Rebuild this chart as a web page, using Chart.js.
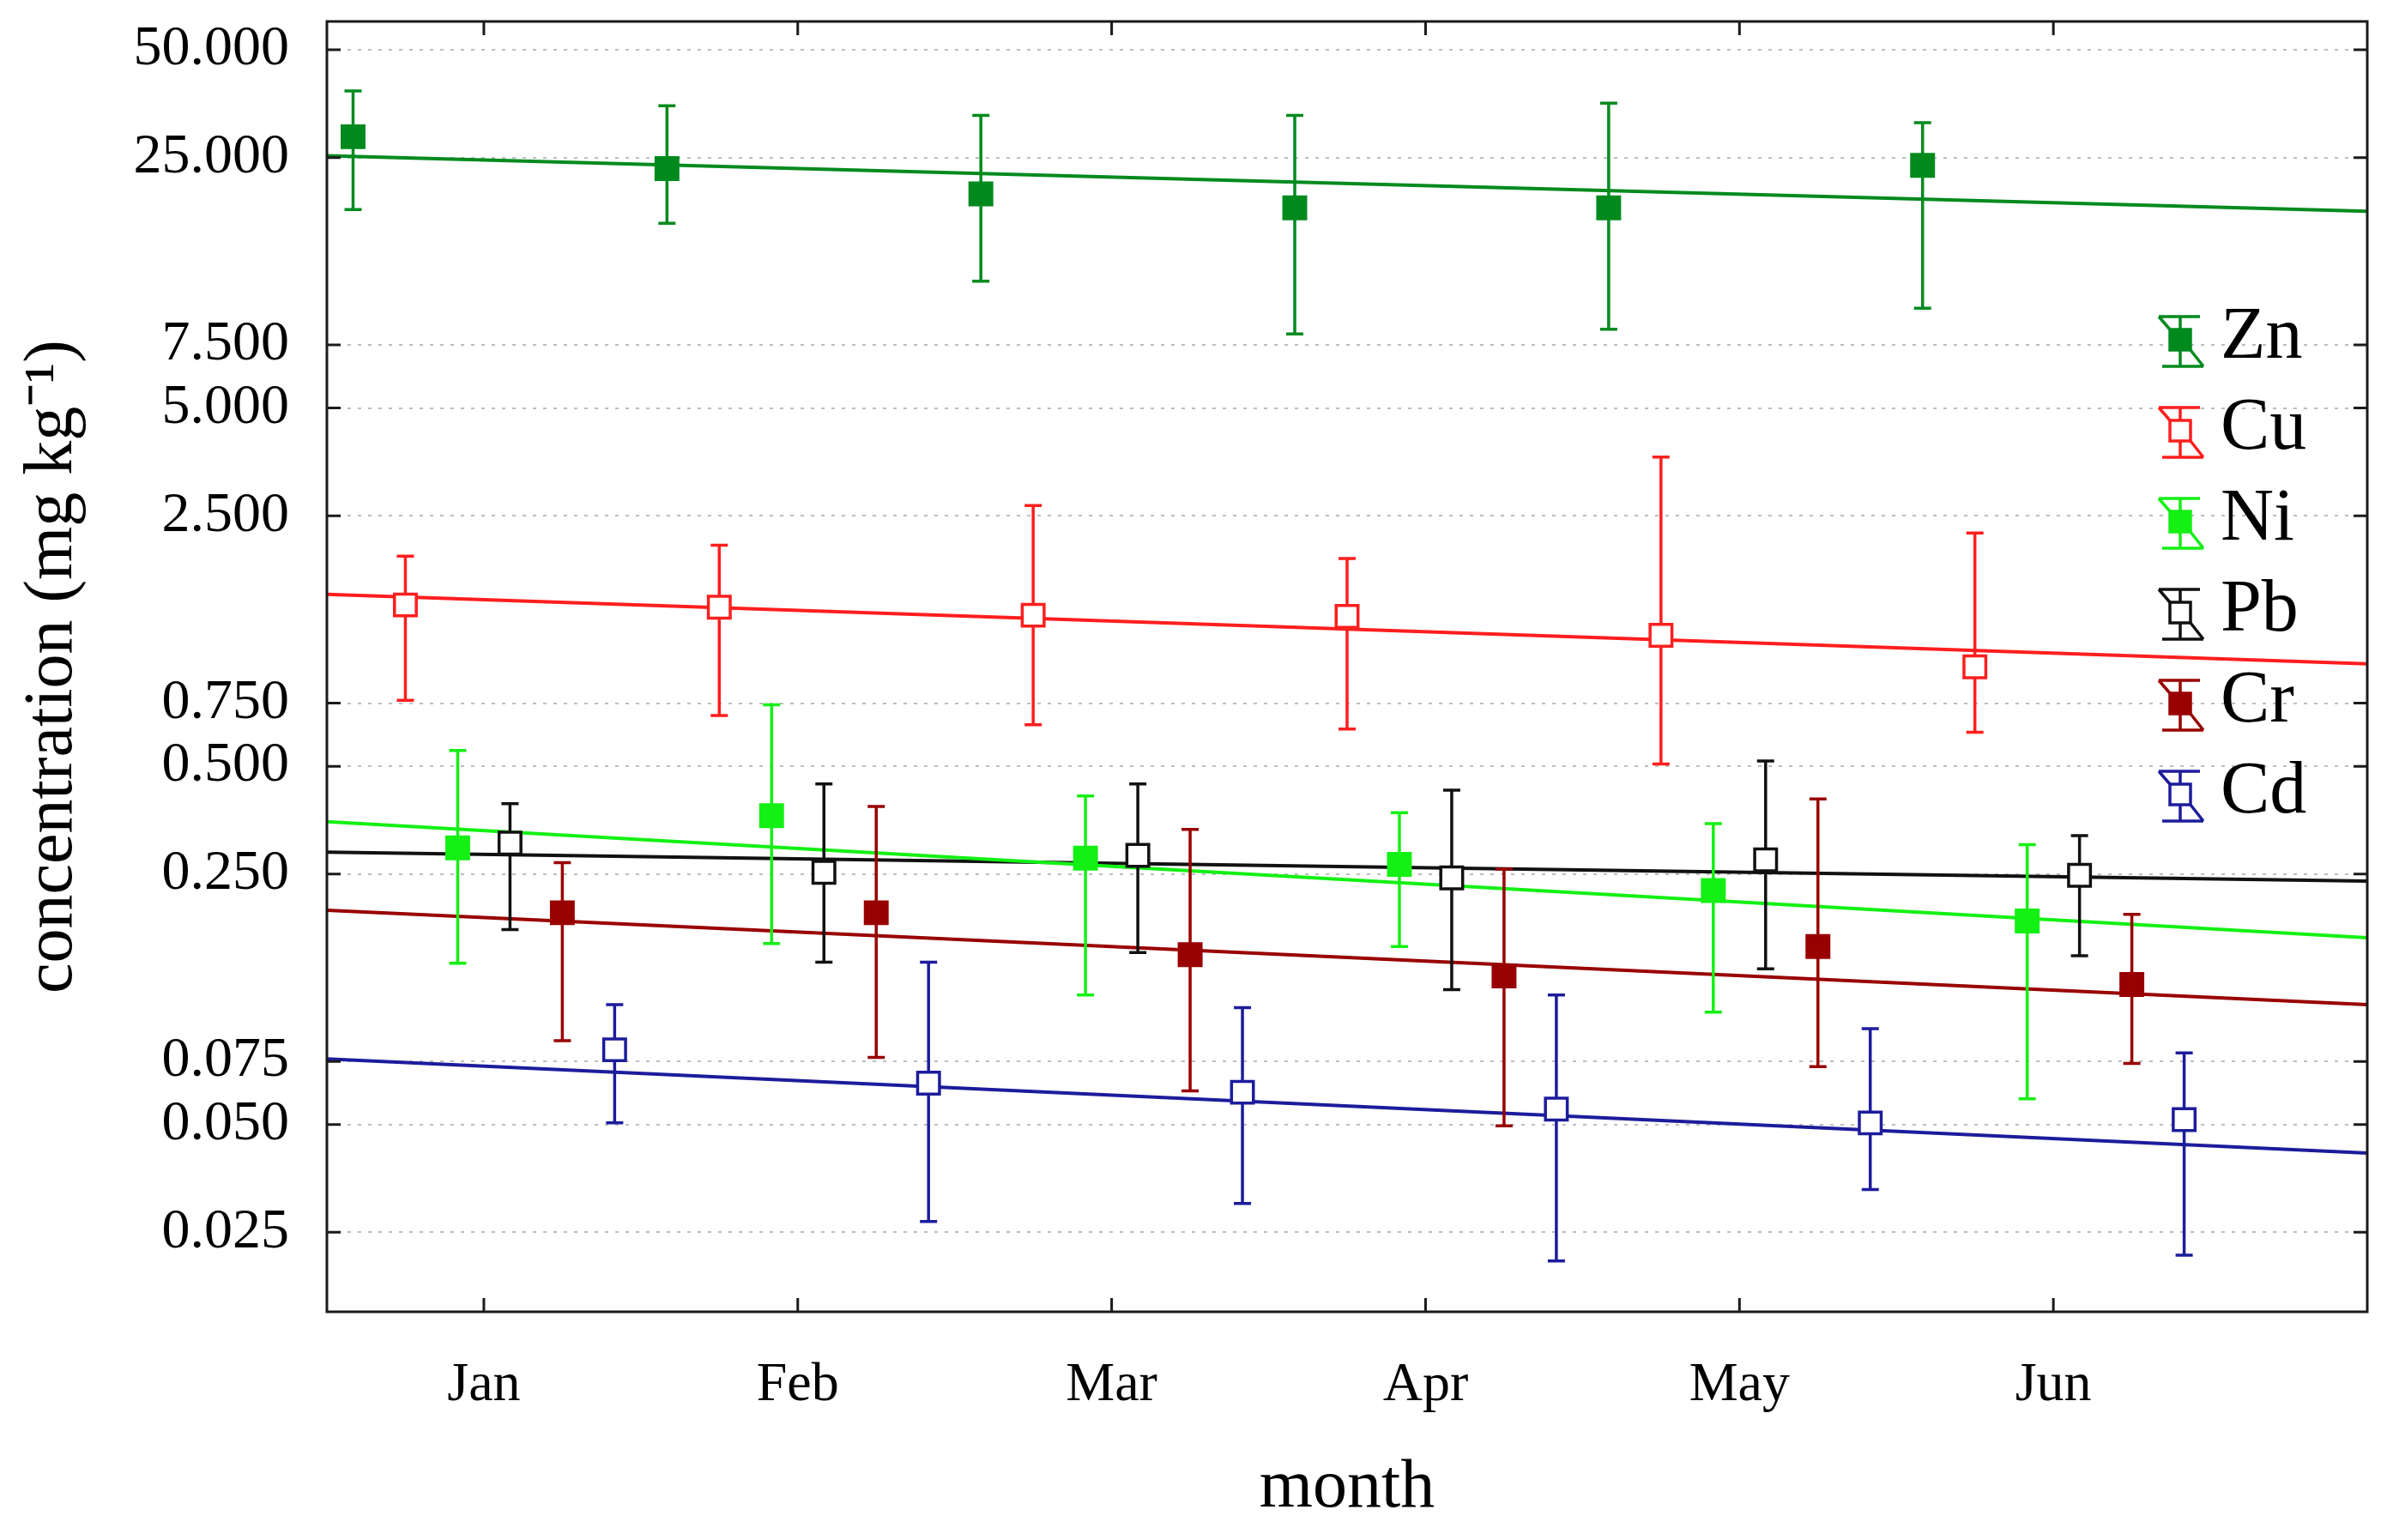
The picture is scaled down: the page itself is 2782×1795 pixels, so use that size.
<!DOCTYPE html>
<html lang="en">
<head>
<meta charset="UTF-8">
<title>Metal concentration by month</title>
<script src="https://cdn.jsdelivr.net/npm/chart.js"></script>
<style>
  body { margin: 0; background: #fff; }
  #wrap { width: 2782px; height: 1795px; position: relative; }
</style>
</head>
<body>
<div id="wrap"><canvas id="metals-chart"></canvas></div>
<script>
// categories and tick labels
const months = ['Jan', 'Feb', 'Mar', 'Apr', 'May', 'Jun'];
const yTicks = [50, 25, 7.5, 5, 2.5, 0.75, 0.5, 0.25, 0.075, 0.05, 0.025];
const metals = ['Zn', 'Cu', 'Ni', 'Pb', 'Cr', 'Cd'];

// means, error limits (mg/kg) and trend line end values
const znMean = [28.6, 23.3, 19.8, 18.1, 18.1, 23.8];
const znLow  = [17.9, 16.4, 11.3, 8.05, 8.3, 9.5];
const znHigh = [38.4, 34.9, 32.8, 32.8, 35.5, 31.3];
const znTrend = [25.3, 17.7];

const cuMean = [1.41, 1.39, 1.32, 1.31, 1.16, 0.947];
const cuLow  = [0.764, 0.693, 0.653, 0.635, 0.507, 0.622];
const cuHigh = [1.93, 2.07, 2.67, 1.90, 3.65, 2.24];
const cuTrend = [1.51, 0.966];

const niMean = [0.296, 0.364, 0.277, 0.266, 0.225, 0.185];
const niLow  = [0.141, 0.160, 0.115, 0.157, 0.103, 0.059];
const niHigh = [0.553, 0.742, 0.413, 0.371, 0.346, 0.302];
const niTrend = [0.350, 0.166];

const pbMean = [0.305, 0.253, 0.282, 0.244, 0.274, 0.248];
const pbLow  = [0.175, 0.142, 0.151, 0.119, 0.136, 0.148];
const pbHigh = [0.393, 0.446, 0.446, 0.429, 0.517, 0.320];
const pbTrend = [0.288, 0.239];

const crMean = [0.195, 0.195, 0.149, 0.130, 0.157, 0.123];
const crLow  = [0.0857, 0.0769, 0.0621, 0.0496, 0.0725, 0.074];
const crHigh = [0.269, 0.386, 0.333, 0.258, 0.405, 0.193];
const crTrend = [0.198, 0.108];

const cdMean = [0.0808, 0.0652, 0.0615, 0.0552, 0.0505, 0.0516];
const cdLow  = [0.0505, 0.0268, 0.0301, 0.0208, 0.0329, 0.0216];
const cdHigh = [0.108, 0.142, 0.106, 0.115, 0.0926, 0.0792];
const cdTrend = [0.0762, 0.0416];

const X_MIN = 0.5, X_MAX = 7;
const FONT = "'Liberation Serif', 'Times New Roman', serif";

const series = [
  { name: 'Zn', color: '#008a1e', filled: true,  mean: znMean, low: znLow, high: znHigh, trend: znTrend },
  { name: 'Cu', color: '#ff1e1e', filled: false, mean: cuMean, low: cuLow, high: cuHigh, trend: cuTrend },
  { name: 'Ni', color: '#14f014', filled: true,  mean: niMean, low: niLow, high: niHigh, trend: niTrend },
  { name: 'Pb', color: '#111111', filled: false, mean: pbMean, low: pbLow, high: pbHigh, trend: pbTrend },
  { name: 'Cr', color: '#990000', filled: true,  mean: crMean, low: crLow, high: crHigh, trend: crTrend },
  { name: 'Cd', color: '#1c1c9c', filled: false, mean: cdMean, low: cdLow, high: cdHigh, trend: cdTrend }
];

const pointSets = series.map((s, k) => ({
  type: 'scatter',
  label: s.name,
  data: s.mean.map((v, i) => ({ x: i + 1 + (k - 2.5) / 6, y: v })),
  errLow: s.low,
  errHigh: s.high,
  pointStyle: 'rect',
  pointRadius: 18,
  borderWidth: 3.5,
  borderColor: s.color,
  backgroundColor: s.filled ? s.color : '#ffffff'
}));

const trendSets = series.map(s => ({
  type: 'line',
  label: s.name + ' trend',
  data: [{ x: X_MIN, y: s.trend[0] }, { x: X_MAX, y: s.trend[1] }],
  borderColor: s.color,
  borderWidth: 4,
  pointRadius: 0,
  fill: false
}));

// vertical error bars with caps, drawn just before each point dataset
const errorBars = {
  id: 'errorBars',
  beforeDatasetDraw(chart, args) {
    const ds = chart.data.datasets[args.index];
    if (!ds.errLow) return;
    const xs = chart.scales.x, ys = chart.scales.y, ctx = chart.ctx;
    ctx.save();
    ctx.strokeStyle = ds.borderColor;
    ctx.lineWidth = 3.5;
    ds.data.forEach((p, i) => {
      const x = xs.getPixelForValue(p.x);
      const yl = ys.getPixelForValue(ds.errLow[i]);
      const yh = ys.getPixelForValue(ds.errHigh[i]);
      ctx.beginPath();
      ctx.moveTo(x, yh); ctx.lineTo(x, yl);
      ctx.moveTo(x - 10, yh); ctx.lineTo(x + 10, yh);
      ctx.moveTo(x - 10, yl); ctx.lineTo(x + 10, yl);
      ctx.stroke();
    });
    ctx.restore();
  }
};

// box frame with inward ticks on all four sides
const frame = {
  id: 'frame',
  afterDatasetsDraw(chart) {
    const { ctx, chartArea: a } = chart;
    const xs = chart.scales.x, ys = chart.scales.y;
    const len = 16;
    ctx.save();
    ctx.strokeStyle = '#1a1a1a';
    ctx.lineWidth = 3;
    ctx.strokeRect(a.left, a.top, a.right - a.left, a.bottom - a.top);
    ctx.beginPath();
    yTicks.forEach(v => {
      const y = ys.getPixelForValue(v);
      ctx.moveTo(a.left, y); ctx.lineTo(a.left + len, y);
      ctx.moveTo(a.right, y); ctx.lineTo(a.right - len, y);
    });
    months.forEach((m, i) => {
      const x = xs.getPixelForValue(i + 1);
      ctx.moveTo(x, a.bottom); ctx.lineTo(x, a.bottom - len);
      ctx.moveTo(x, a.top); ctx.lineTo(x, a.top + len);
    });
    ctx.stroke();
    ctx.restore();
  }
};

// legend inside the plot, right side
const insideLegend = {
  id: 'insideLegend',
  afterDraw(chart) {
    const ctx = chart.ctx;
    const gx = 2541, tx = 2588, y0 = 396, step = 106;
    ctx.save();
    series.forEach((s, i) => {
      const cy = y0 + i * step;
      ctx.strokeStyle = s.color;
      ctx.lineWidth = 3.5;
      ctx.beginPath();
      ctx.moveTo(gx - 25, cy - 27); ctx.lineTo(gx + 23, cy - 27);
      ctx.moveTo(gx - 25, cy - 27); ctx.lineTo(gx - 12, cy - 12);
      ctx.moveTo(gx, cy - 27); ctx.lineTo(gx, cy + 31);
      ctx.moveTo(gx - 21, cy + 31); ctx.lineTo(gx + 27, cy + 31);
      ctx.moveTo(gx + 12, cy + 12); ctx.lineTo(gx + 27, cy + 31);
      ctx.stroke();
      ctx.fillStyle = s.filled ? s.color : '#ffffff';
      ctx.fillRect(gx - 12, cy - 12, 24, 24);
      ctx.strokeRect(gx - 12, cy - 12, 24, 24);
      ctx.fillStyle = '#000';
      ctx.font = '86px ' + FONT;
      ctx.textBaseline = 'middle';
      ctx.textAlign = 'left';
      ctx.fillText(s.name, tx, cy - 2);
    });
    ctx.restore();
  }
};

new Chart(document.getElementById('metals-chart'), {
  data: { datasets: pointSets.concat(trendSets) },
  options: {
    responsive: true,
    maintainAspectRatio: false,
    devicePixelRatio: 1,
    animation: false,
    layout: { padding: { top: 25, right: 23, left: 0, bottom: 0 } },
    plugins: { legend: { display: false }, tooltip: { enabled: false } },
    scales: {
      x: {
        type: 'linear',
        min: X_MIN,
        max: X_MAX,
        bounds: 'data',
        afterBuildTicks: s => { s.ticks = months.map((m, i) => ({ value: i + 1 })); },
        afterFit: s => { s.height = 266; s.paddingLeft = 0; s.paddingRight = 0; },
        grid: { display: false },
        border: { display: false },
        ticks: {
          autoSkip: false,
          maxRotation: 0,
          padding: 40,
          color: '#000',
          font: { family: FONT, size: 64 },
          callback: v => months[Math.round(v) - 1]
        },
        title: {
          display: true,
          text: 'month',
          color: '#000',
          font: { family: FONT, size: 80 },
          padding: { top: 0, bottom: 12 }
        }
      },
      y: {
        type: 'logarithmic',
        min: 0.015,
        max: 60,
        bounds: 'data',
        afterBuildTicks: s => { s.ticks = yTicks.map(v => ({ value: v })); },
        afterFit: s => { s.width = 381; s.paddingTop = 0; s.paddingBottom = 0; },
        grid: { color: '#bdbdbd', lineWidth: 2, drawTicks: false },
        border: { display: false, dash: [4, 8] },
        ticks: {
          autoSkip: false,
          padding: 44,
          color: '#000',
          font: { family: FONT, size: 66 },
          callback: v => Number(v).toFixed(3)
        },
        title: {
          display: true,
          text: 'concentration (mg kg⁻¹)',
          color: '#000',
          font: { family: FONT, size: 80 },
          padding: { top: 14, bottom: 0 }
        }
      }
    }
  },
  plugins: [errorBars, frame, insideLegend]
});
</script>
</body>
</html>
